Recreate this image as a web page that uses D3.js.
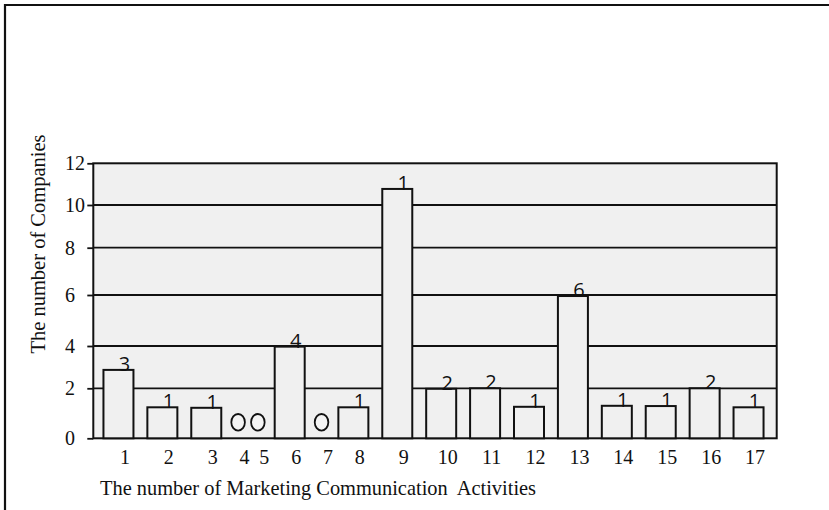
<!DOCTYPE html>
<html>
<head>
<meta charset="utf-8">
<script src="https://cdn.jsdelivr.net/npm/d3@7"></script>
<style>
  html, body { margin: 0; padding: 0; background: #fff; }
  svg { display: block; }
</style>
</head>
<body>
<svg id="chart" width="829" height="510"></svg>
<script>
// ---- data ----
const categories = ["1","2","3","4","5","6","7","8","9","10","11","12","13","14","15","16","17"];
const barValues  = [2.87, 1.24, 1.22, 0, 0, 3.97, 0, 1.24, 10.77, 1.98, 2.0, 1.26, 5.96, 1.3, 1.29, 2.0, 1.24];
const barLabels  = ["3","1","1","","","4","","1","1","2","2","1","6","1","1","2","1"];
const yTicks     = [0, 2, 4, 6, 8, 10, 12];
const xTitle     = "The number of Marketing Communication  Activities";
const yTitle     = "The number of Companies";

// ---- layout ----
const svg = d3.select("#chart");
const plot = { left: 93.3, right: 776.7, top: 163.3, bottom: 438.3 };
const serif = "'Liberation Serif', 'Times New Roman', serif";
const sans = "'Open Sans', 'Liberation Sans', sans-serif";

// outer frame (top and left edges visible)
svg.append("path")
  .attr("d", "M5,510 L5,5 L829,5")
  .attr("fill", "none").attr("stroke", "#111").attr("stroke-width", 2.2);

// y scale: the original axis is calibrated at each tick
const y = d3.scaleLinear()
  .domain(yTicks)
  .range([438.3, 388.3, 346, 295, 247.7, 205, 163.3]);

// x layout: zero categories occupy a narrower slot
const weights = barValues.map(v => v === 0 ? 0.45 : 1);
const cum = [];
weights.reduce((acc, w, i) => { cum[i] = acc + w / 2; return acc + w; }, 0);
const total = d3.sum(weights);
const xw = d3.scaleLinear().domain([0, total]).range([96.5, 770.5]);
const x = d3.scaleOrdinal().domain(categories).range(cum.map(c => xw(c)));
const barW = 30;

// plot background
svg.append("rect")
  .attr("x", plot.left).attr("y", plot.top)
  .attr("width", plot.right - plot.left).attr("height", plot.bottom - plot.top)
  .attr("fill", "#f0f0f0");

// gridlines
svg.append("g").selectAll("line")
  .data(yTicks.filter(t => t > 0 && t < 12))
  .join("line")
  .attr("x1", plot.left).attr("x2", plot.right)
  .attr("y1", d => y(d)).attr("y2", d => y(d))
  .attr("stroke", "#111").attr("stroke-width", 1.8);

// plot border
svg.append("rect")
  .attr("x", plot.left).attr("y", plot.top)
  .attr("width", plot.right - plot.left).attr("height", plot.bottom - plot.top)
  .attr("fill", "none").attr("stroke", "#111").attr("stroke-width", 2);

// y axis
const yAxis = svg.append("g")
  .attr("transform", `translate(${plot.left},0)`)
  .call(d3.axisLeft(y).tickValues(yTicks).tickSize(6).tickPadding(2).tickFormat(d3.format("d")));
yAxis.select(".domain").remove();
yAxis.selectAll(".tick line").attr("stroke", "#111").attr("stroke-width", 1.8);
yAxis.selectAll(".tick text")
  .attr("text-anchor", "start").attr("x", 65 - plot.left)
  .attr("font-family", serif).attr("font-size", 20).attr("fill", "#111");

// data
const data = categories.map((c, i) => ({ cat: c, value: barValues[i], label: barLabels[i] }));

// bars
svg.append("g").selectAll("rect")
  .data(data.filter(d => d.value > 0))
  .join("rect")
  .attr("x", d => x(d.cat) - barW / 2)
  .attr("y", d => y(d.value))
  .attr("width", barW)
  .attr("height", d => y(0) - y(d.value))
  .attr("fill", "#f0f0f0").attr("stroke", "#111").attr("stroke-width", 2);

// zero markers
svg.append("g").selectAll("ellipse")
  .data(data.filter(d => d.value === 0))
  .join("ellipse")
  .attr("cx", d => x(d.cat))
  .attr("cy", y(0) - 16)
  .attr("rx", 6.8).attr("ry", 8.3)
  .attr("fill", "#f4f4f4").attr("stroke", "#111").attr("stroke-width", 1.8);

// bar labels
svg.append("g").selectAll("text")
  .data(data.filter(d => d.label !== ""))
  .join("text")
  .attr("x", d => x(d.cat) + 6)
  .attr("y", d => y(d.value) + 1)
  .attr("text-anchor", "middle")
  .attr("font-family", sans).attr("font-size", 20).attr("fill", "#111")
  .text(d => d.label);

// x axis labels
const xAxis = svg.append("g")
  .attr("transform", `translate(6,${plot.bottom})`)
  .call(d3.axisBottom(x).tickSize(0).tickPadding(12));
xAxis.select(".domain").remove();
xAxis.selectAll(".tick text")
  .attr("font-family", serif).attr("font-size", 20).attr("fill", "#111");

// axis titles
svg.append("text")
  .attr("x", 100).attr("y", 495)
  .attr("font-family", serif).attr("font-size", 20.4).attr("fill", "#111")
  .style("white-space", "pre")
  .text(xTitle);

svg.append("text")
  .attr("transform", "translate(38,244) rotate(-90)")
  .attr("text-anchor", "middle").attr("dy", "0.35em")
  .attr("font-family", serif).attr("font-size", 20.5).attr("fill", "#111")
  .text(yTitle);
</script>
</body>
</html>
